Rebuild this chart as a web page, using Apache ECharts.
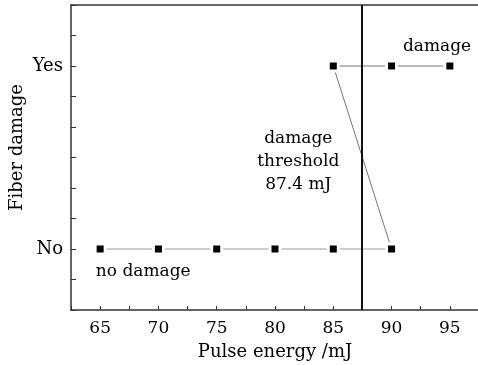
<!DOCTYPE html>
<html><head><meta charset="utf-8">
<script src="https://cdn.jsdelivr.net/npm/echarts@6/dist/echarts.min.js"></script>
<style>html,body{margin:0;padding:0;background:#fff}#c{width:478px;height:365px}</style>
</head><body><div id="c"></div>
<script>
// Data
const energyNo = [65, 70, 75, 80, 85, 90];
const damageNo = [0, 0, 0, 0, 0, 0];
const energyYes = [90, 85, 90, 95];
const damageYes = [0, 6, 6, 6];
const threshold = 87.4;
const yTickLabels = {0: 'No', 6: 'Yes'};
const xTicks = [65, 70, 75, 80, 85, 90, 95];

const font = 'DejaVu Serif';
const chart = echarts.init(document.getElementById('c'), null, {renderer: 'canvas'});
const pts = (xs, ys) => xs.map((x, i) => [x, ys[i]]);
const markerStyle = {color: '#000', borderColor: '#fff', borderWidth: 3};

chart.setOption({
  backgroundColor: '#fff',
  animation: false,
  grid: {left: 71, top: 5, width: 408, bottom: 55, containLabel: false, outerBoundsMode: 'none'},
  xAxis: [{
    type: 'value', min: 62.5, max: 97.5, interval: 2.5,
    name: 'Pulse energy /mJ', nameLocation: 'middle', nameGap: 33, nameMoveOverlap: false,
    nameTextStyle: {fontFamily: font, fontSize: 18, color: '#000'},
    axisLine: {show: true, onZero: false, lineStyle: {color: '#333', width: 1.5}},
    axisTick: {show: true, inside: true, length: 4, lineStyle: {color: '#333'}},
    axisLabel: {fontFamily: font, fontSize: 17, color: '#000', margin: 10,
      formatter: v => xTicks.includes(v) ? String(v) : ''},
    splitLine: {show: false}
  }, {
    type: 'value', position: 'top', min: 62.5, max: 97.5,
    axisLine: {show: true, onZero: false, lineStyle: {color: '#333', width: 1.5}},
    axisTick: {show: false}, axisLabel: {show: false}, splitLine: {show: false}
  }],
  yAxis: {
    type: 'value', min: -2, max: 8, interval: 1,
    name: 'Fiber damage', nameLocation: 'middle', nameGap: 45, nameMoveOverlap: false,
    nameTextStyle: {fontFamily: font, fontSize: 18, color: '#000', padding: [0, 0, 0, 20]},
    axisLine: {show: true, onZero: false, lineStyle: {color: '#333', width: 1.5}},
    axisTick: {show: true, inside: true, length: 5, lineStyle: {color: '#333'}},
    axisLabel: {fontFamily: font, fontSize: 18, color: '#000', margin: 8,
      formatter: v => yTickLabels[v] || ''},
    splitLine: {show: false}
  },
  series: [{
    type: 'line', data: pts(energyNo, damageNo),
    symbol: 'rect', symbolSize: 10, itemStyle: markerStyle,
    lineStyle: {color: '#bdbdbd', width: 1.3}, z: 3
  }, {
    type: 'line', data: pts(energyYes, damageYes),
    symbol: 'rect', symbolSize: 10, itemStyle: markerStyle,
    lineStyle: {color: '#7a7474', width: 1}, z: 3,
    markLine: {
      silent: true, symbol: ['none', 'none'], label: {show: false},
      lineStyle: {color: '#111', width: 2, type: 'solid'},
      data: [{xAxis: threshold}]
    }
  }, {
    type: 'scatter', symbolSize: 0, z: 5, itemStyle: {opacity: 1},
    data: [
      {value: [93.9, 6.65], label: {formatter: 'damage'}},
      {value: [68.7, -0.73], label: {formatter: 'no damage'}},
      {value: [82.0, 2.87], label: {formatter: 'damage\nthreshold\n87.4 mJ', lineHeight: 23}}
    ],
    label: {show: true, position: 'inside', fontFamily: font, fontSize: 17, color: '#000', align: 'center'}
  }]
});
</script></body></html>
